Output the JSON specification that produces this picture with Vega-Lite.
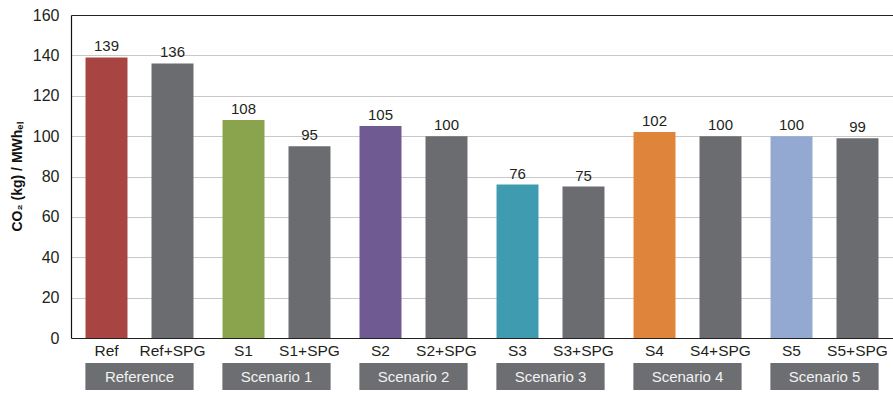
{
  "$schema": "https://vega.github.io/schema/vega-lite/v6.json",
  "width": 822,
  "height": 323,
  "autosize": {"type": "none"},
  "padding": {"left": 71, "top": 15, "right": 0, "bottom": 56},
  "background": "white",
  "config": {
    "view": {"stroke": null},
    "font": "Liberation Sans"
  },
  "datasets": {
    "bars": [
      {"label": "Ref", "group": "Reference", "variant": "base", "series": "Ref", "value": 139},
      {"label": "Ref+SPG", "group": "Reference", "variant": "spg", "series": "SPG", "value": 136},
      {"label": "S1", "group": "Scenario 1", "variant": "base", "series": "S1", "value": 108},
      {"label": "S1+SPG", "group": "Scenario 1", "variant": "spg", "series": "SPG", "value": 95},
      {"label": "S2", "group": "Scenario 2", "variant": "base", "series": "S2", "value": 105},
      {"label": "S2+SPG", "group": "Scenario 2", "variant": "spg", "series": "SPG", "value": 100},
      {"label": "S3", "group": "Scenario 3", "variant": "base", "series": "S3", "value": 76},
      {"label": "S3+SPG", "group": "Scenario 3", "variant": "spg", "series": "SPG", "value": 75},
      {"label": "S4", "group": "Scenario 4", "variant": "base", "series": "S4", "value": 102},
      {"label": "S4+SPG", "group": "Scenario 4", "variant": "spg", "series": "SPG", "value": 100},
      {"label": "S5", "group": "Scenario 5", "variant": "base", "series": "S5", "value": 100},
      {"label": "S5+SPG", "group": "Scenario 5", "variant": "spg", "series": "SPG", "value": 99}
    ],
    "groups": [
      {"group": "Reference"},
      {"group": "Scenario 1"},
      {"group": "Scenario 2"},
      {"group": "Scenario 3"},
      {"group": "Scenario 4"},
      {"group": "Scenario 5"}
    ]
  },
  "encoding": {
    "x": {
      "field": "group",
      "type": "nominal",
      "scale": {"domain": ["Reference", "Scenario 1", "Scenario 2", "Scenario 3", "Scenario 4", "Scenario 5"], "paddingInner": 0, "paddingOuter": 0},
      "axis": null
    }
  },
  "layer": [
    {
      "data": {"name": "bars"},
      "mark": {"type": "bar"},
      "encoding": {
        "xOffset": {"field": "variant", "type": "nominal", "scale": {"domain": ["base", "spg"], "paddingInner": 0.364, "paddingOuter": 0.22}},
        "y": {
          "field": "value",
          "type": "quantitative",
          "scale": {"domain": [0, 160], "nice": false},
          "axis": {
            "values": [0, 20, 40, 60, 80, 100, 120, 140, 160],
            "title": "CO₂ (kg) / MWhₑₗ",
            "titleFont": "Liberation Sans",
            "titleFontSize": 14,
            "titleFontWeight": "bold",
            "titleColor": "#111111",
            "titlePadding": 8,
            "labelFont": "Liberation Sans",
            "labelFontSize": 16,
            "labelColor": "#231f20",
            "labelPadding": 12,
            "ticks": false,
            "domain": true,
            "domainColor": "#111111",
            "domainWidth": 1.2,
            "grid": true,
            "gridColor": {"condition": {"test": "datum.value === 160 || datum.value === 0", "value": "#222222"}, "value": "#c8c8c8"},
            "gridWidth": 1.2
          }
        },
        "color": {
          "field": "series",
          "type": "nominal",
          "scale": {
            "domain": ["Ref", "SPG", "S1", "S2", "S3", "S4", "S5"],
            "range": ["#a84442", "#6b6c70", "#8aa34d", "#6f5a91", "#3f9cb0", "#de853b", "#94a9d1"]
          },
          "legend": null
        }
      }
    },
    {
      "data": {"name": "bars"},
      "mark": {"type": "text", "baseline": "bottom", "dy": -3, "fontSize": 15, "color": "#231f20", "font": "Liberation Sans"},
      "encoding": {
        "xOffset": {"field": "variant", "type": "nominal"},
        "y": {"field": "value", "type": "quantitative"},
        "text": {"field": "value", "type": "quantitative"}
      }
    },
    {
      "data": {"name": "bars"},
      "mark": {"type": "text", "baseline": "top", "dy": 6, "fontSize": 15.5, "color": "#231f20", "font": "Liberation Sans"},
      "encoding": {
        "xOffset": {"field": "variant", "type": "nominal"},
        "y": {"datum": 0, "type": "quantitative"},
        "text": {"field": "label", "type": "nominal"}
      }
    },
    {
      "data": {"name": "groups"},
      "mark": {"type": "bar", "color": "#6d6e71", "width": {"band": 0.79}},
      "encoding": {
        "y": {"datum": -12.4, "type": "quantitative"},
        "y2": {"datum": -25.7}
      }
    },
    {
      "data": {"name": "groups"},
      "mark": {"type": "text", "baseline": "middle", "fontSize": 15, "color": "#f2f2f2", "font": "Liberation Sans"},
      "encoding": {
        "y": {"datum": -19.2, "type": "quantitative"},
        "text": {"field": "group", "type": "nominal"}
      }
    }
  ]
}
